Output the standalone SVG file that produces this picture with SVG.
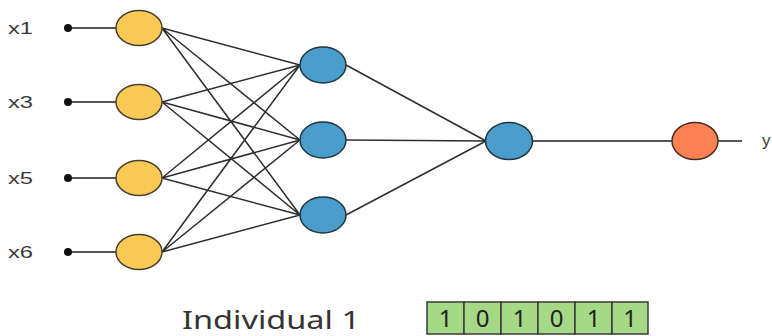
<svg xmlns="http://www.w3.org/2000/svg" width="772" height="336" viewBox="0 0 772 336">
  <style>
    .lbl { font-family: "Liberation Sans", Arial, sans-serif; font-size: 17px; fill: #3a3a3a; }
    .big { font-family: "Noto Sans", "Liberation Sans", sans-serif; font-size: 26px; fill: #333; }
    .bit { font-family: "Noto Sans", "Liberation Sans", sans-serif; font-size: 24px; fill: #222; text-anchor: middle; }
    .edge { stroke: #2e2e2e; stroke-width: 1.5; fill: none; }
    .wire { stroke: #555; stroke-width: 2; fill: none; }
    .in { fill: #f8c954; stroke: #4a4030; stroke-width: 1.5; }
    .hid { fill: #4a9ccb; stroke: #1f3442; stroke-width: 1.5; }
    .out { fill: #f98154; stroke: #4a2a20; stroke-width: 1.5; }
    .cell { fill: #a6d985; stroke: #3a3a3a; stroke-width: 1.5; }
  </style>

  <!-- connectors -->
  <g id="connectors">
    <!-- input feeds -->
    <line class="wire" x1="68" y1="28" x2="116" y2="28"/>
    <line class="wire" x1="68" y1="102" x2="116" y2="102"/>
    <line class="wire" x1="68" y1="178" x2="116" y2="178"/>
    <line class="wire" x1="68" y1="252" x2="116" y2="252"/>
    <circle cx="68" cy="28" r="4" fill="#111"/>
    <circle cx="68" cy="102" r="4" fill="#111"/>
    <circle cx="68" cy="178" r="4" fill="#111"/>
    <circle cx="68" cy="252" r="4" fill="#111"/>
    <!-- input layer to hidden layer -->
    <path class="edge" d="M162 28 L300 65 M162 28 L300 140 M162 28 L300 215
                          M162 102 L300 65 M162 102 L300 140 M162 102 L300 215
                          M162 178 L300 65 M162 178 L300 140 M162 178 L300 215
                          M162 252 L300 65 M162 252 L300 140 M162 252 L300 215"/>
    <!-- hidden layer to output node -->
    <path class="edge" d="M346 65 L486 141 M346 140 L486 141 M346 215 L486 141"/>
    <line class="wire" x1="533" y1="141" x2="672" y2="141"/>
    <line class="wire" x1="718" y1="141" x2="742" y2="141"/>
  </g>

  <!-- input nodes -->
  <g id="in1"><ellipse class="in" cx="139" cy="28" rx="23" ry="17.5"/><text class="lbl" x="8" y="34" textLength="25" lengthAdjust="spacingAndGlyphs">x1</text></g>
  <g id="in3"><ellipse class="in" cx="139" cy="102" rx="23" ry="17.5"/><text class="lbl" x="8" y="108" textLength="25" lengthAdjust="spacingAndGlyphs">x3</text></g>
  <g id="in5"><ellipse class="in" cx="139" cy="178" rx="23" ry="17.5"/><text class="lbl" x="8" y="184" textLength="25" lengthAdjust="spacingAndGlyphs">x5</text></g>
  <g id="in6"><ellipse class="in" cx="139" cy="252" rx="23" ry="17.5"/><text class="lbl" x="8" y="258" textLength="25" lengthAdjust="spacingAndGlyphs">x6</text></g>

  <!-- hidden nodes -->
  <g id="h1"><ellipse class="hid" cx="323" cy="65" rx="23" ry="18"/></g>
  <g id="h2"><ellipse class="hid" cx="323" cy="140" rx="23" ry="18"/></g>
  <g id="h3"><ellipse class="hid" cx="323" cy="215" rx="23" ry="18"/></g>

  <!-- output nodes -->
  <g id="o1"><ellipse class="hid" cx="509" cy="141" rx="23.5" ry="18.5"/></g>
  <g id="y"><ellipse class="out" cx="695" cy="141" rx="23" ry="18.5"/><text class="lbl" x="762" y="146">y</text></g>

  <!-- chromosome -->
  <g id="individual">
    <text class="big" x="182" y="329" textLength="178" lengthAdjust="spacingAndGlyphs">Individual  1</text>
    <rect class="cell" x="427" y="302" width="37" height="32"/>
    <rect class="cell" x="464" y="302" width="37" height="32"/>
    <rect class="cell" x="501" y="302" width="37" height="32"/>
    <rect class="cell" x="538" y="302" width="37" height="32"/>
    <rect class="cell" x="575" y="302" width="37" height="32"/>
    <rect class="cell" x="612" y="302" width="36" height="32"/>
    <text class="bit" x="445.5" y="327">1</text>
    <text class="bit" x="482.5" y="327">0</text>
    <text class="bit" x="519.5" y="327">1</text>
    <text class="bit" x="556.5" y="327">0</text>
    <text class="bit" x="593.5" y="327">1</text>
    <text class="bit" x="630" y="327">1</text>
  </g>
</svg>
